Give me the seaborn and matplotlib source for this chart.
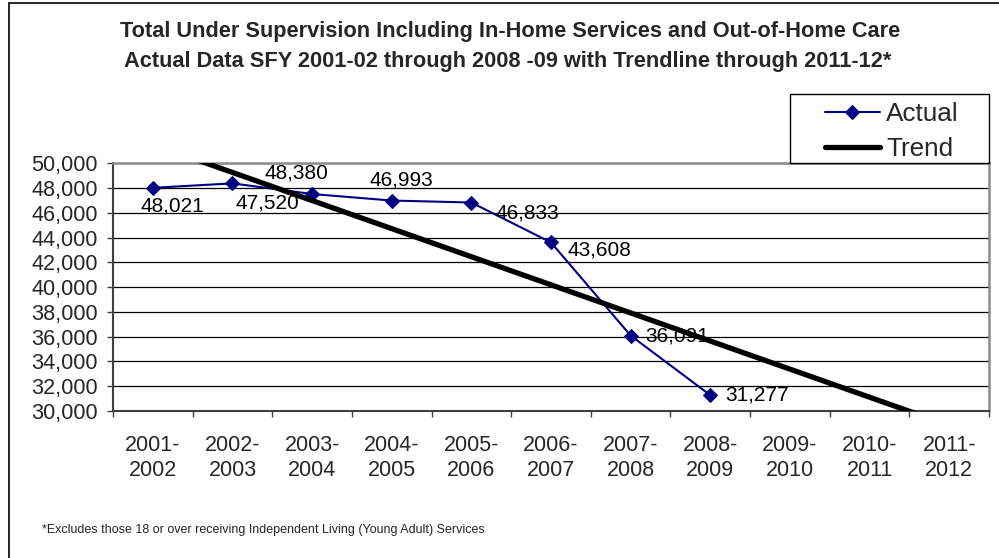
import numpy as np
import pandas as pd
import matplotlib
matplotlib.use("Agg")
import matplotlib.pyplot as plt
import matplotlib.patches as mpatches
import seaborn as sns

# Fiscal years on the category axis
years = ["2001-\n2002", "2002-\n2003", "2003-\n2004", "2004-\n2005", "2005-\n2006",
         "2006-\n2007", "2007-\n2008", "2008-\n2009", "2009-\n2010", "2010-\n2011",
         "2011-\n2012"]
# Actual totals under supervision, SFY 2001-02 .. 2008-09
actual = [48021, 48380, 47520, 46993, 46833, 43608, 36091, 31277]
y_ticks = list(range(30000, 50001, 2000))

# Where each value label sits relative to its marker (pixels)
label_offsets = [(20, -18), (64, 10), (-45, -9), (10, 21), (56, -10),
                 (48, -8), (47, 0), (47, 0)]

sns.set_theme(style="white")
plt.rcParams["font.family"] = ["Liberation Sans", "DejaVu Sans"]

W, H = 999, 558
fig = plt.figure(figsize=(W / 100, H / 100), dpi=100)
fig.patch.set_facecolor("white")

ax = fig.add_axes([113 / W, 1 - 411 / H, (989 - 113) / W, (411 - 163.3) / H])

x_actual = np.arange(len(actual))
df_actual = pd.DataFrame({"x": x_actual, "value": actual})

# Linear trendline fitted to the actual years, extended through 2011-12
slope, intercept = np.polyfit(x_actual, actual, 1)
x_trend = np.arange(len(years))
df_trend = pd.DataFrame({"x": x_trend, "value": slope * x_trend + intercept})

sns.lineplot(data=df_actual, x="x", y="value", ax=ax, color="#000080",
             linewidth=1.5, marker="D", markersize=7.4,
             markeredgecolor="#000080", markerfacecolor="#000080",
             label="Actual", zorder=3)
sns.lineplot(data=df_trend, x="x", y="value", ax=ax, color="black",
             linewidth=3.8, label="Trend", zorder=5)

for xi, val, (dx, dy) in zip(x_actual, actual, label_offsets):
    ax.annotate(f"{val:,}", (xi, val), xytext=(dx, dy),
                textcoords="offset pixels", ha="center", va="center",
                fontsize=15, color="black", zorder=4)

ax.set_xlim(-0.5, len(years) - 0.5)
ax.set_ylim(30000, 50000)
ax.set_yticks(y_ticks)
ax.set_yticklabels([f"{v:,}" for v in y_ticks], fontsize=15.6)
ax.set_xticks(x_trend)
ax.set_xticklabels(years, fontsize=15.5)
for lbl in ax.get_xticklabels():
    lbl.set_linespacing(1.25)
ax.set_xticks(np.arange(-0.5, len(years), 1.0), minor=True)
ax.set_xlabel("")
ax.set_ylabel("")

ax.grid(axis="y", color="black", linewidth=0.9)
ax.grid(axis="x", visible=False)
ax.set_axisbelow(True)

ax.tick_params(axis="y", which="major", direction="out", length=4.5, width=1,
               color="#404040", pad=6.5, left=True)
ax.tick_params(axis="x", which="major", length=0, pad=17)
ax.tick_params(axis="x", which="minor", direction="out", length=4.5, width=1,
               color="#404040", bottom=True)

for side in ["left", "bottom"]:
    ax.spines[side].set_color("#404040")
    ax.spines[side].set_linewidth(1.5)
for side in ["top", "right"]:
    ax.spines[side].set_color("#8c8c8c")
    ax.spines[side].set_linewidth(1.8)

# Legend: entries placed at figure level, boxed by a separate frame
handles, labels = ax.get_legend_handles_labels()
ax.get_legend().remove()
legend_box = mpatches.Rectangle((790 / W, 1 - 163 / H), 199 / W, 69 / H,
                                transform=fig.transFigure, facecolor="white",
                                edgecolor="black", linewidth=1.0, zorder=4)
fig.patches.append(legend_box)
leg = fig.legend(handles, labels, loc="upper left",
                 bbox_to_anchor=(825 / W, 1 - 102 / H),
                 bbox_transform=fig.transFigure, fontsize=18.8, frameon=False,
                 borderaxespad=0, borderpad=0, handlelength=2.1,
                 handletextpad=0.25, labelspacing=0.42)
leg.set_zorder(5)

fig.text(510 / W, 1 - 32 / H,
         "Total Under Supervision Including In-Home Services and Out-of-Home Care",
         ha="center", va="center", fontsize=15.7, fontweight="bold")
fig.text(508 / W, 1 - 62 / H,
         "Actual Data SFY 2001-02 through 2008 -09 with Trendline through 2011-12*",
         ha="center", va="center", fontsize=15.7, fontweight="bold")

fig.text(42 / W, 1 - 530 / H,
         "*Excludes those 18 or over receiving Independent Living (Young Adult) Services",
         ha="left", va="center", fontsize=9)

# Chart frame
frame = mpatches.Rectangle((8.5 / W, -0.1), 1.2, 1.1 - 2.5 / H,
                           transform=fig.transFigure, fill=False,
                           edgecolor="black", linewidth=1.2)
fig.patches.append(frame)

fig.savefig("out.png", dpi=100)
